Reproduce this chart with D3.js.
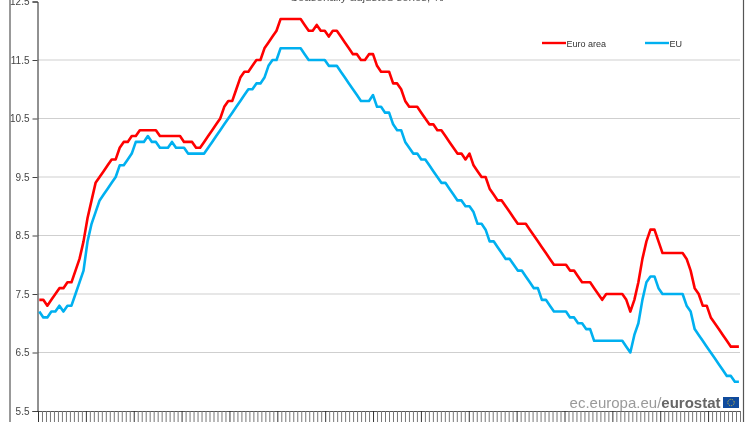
<!DOCTYPE html>
<html><head><meta charset="utf-8">
<script src="https://cdn.jsdelivr.net/npm/d3@7"></script>
<style>html,body{margin:0;padding:0;background:#fff;overflow:hidden}svg{display:block;filter:blur(0.35px)}text{font-family:"Liberation Sans",Arial,sans-serif}</style>
</head><body>
<script>
const titleText = "Seasonally adjusted series, %";
const yTicks = [5.5,6.5,7.5,8.5,9.5,10.5,11.5,12.5];
const seriesNames = ["Euro area","EU"];
const seriesColors = ["#ff0000","#00b0f0"];
const euroArea = [7.4,7.4,7.3,7.4,7.5,7.6,7.6,7.7,7.7,7.9,8.1,8.4,8.8,9.1,9.4,9.5,9.6,9.7,9.8,9.8,
10.0,10.1,10.1,10.2,10.2,10.3,10.3,10.3,10.3,10.3,10.2,10.2,10.2,10.2,10.2,10.2,10.1,10.1,10.1,10.0,
10.0,10.1,10.2,10.3,10.4,10.5,10.7,10.8,10.8,11.0,11.2,11.3,11.3,11.4,11.5,11.5,11.7,11.8,11.9,12.0,
12.2,12.2,12.2,12.2,12.2,12.2,12.1,12.0,12.0,12.1,12.0,12.0,11.9,12.0,12.0,11.9,11.8,11.7,11.6,11.6,
11.5,11.5,11.6,11.6,11.4,11.3,11.3,11.3,11.1,11.1,11.0,10.8,10.7,10.7,10.7,10.6,10.5,10.4,10.4,10.3,
10.3,10.2,10.1,10.0,9.9,9.9,9.8,9.9,9.7,9.6,9.5,9.5,9.3,9.2,9.1,9.1,9.0,8.9,8.8,8.7,
8.7,8.7,8.6,8.5,8.4,8.3,8.2,8.1,8.0,8.0,8.0,8.0,7.9,7.9,7.8,7.7,7.7,7.7,7.6,7.5,
7.4,7.5,7.5,7.5,7.5,7.5,7.4,7.2,7.4,7.7,8.1,8.4,8.6,8.6,8.4,8.2,8.2,8.2,8.2,8.2,
8.2,8.1,7.9,7.6,7.5,7.3,7.3,7.1,7.0,6.9,6.8,6.7,6.6,6.6,6.6];
const eu = [7.2,7.1,7.1,7.2,7.2,7.3,7.2,7.3,7.3,7.5,7.7,7.9,8.4,8.7,8.9,9.1,9.2,9.3,9.4,9.5,
9.7,9.7,9.8,9.9,10.1,10.1,10.1,10.2,10.1,10.1,10.0,10.0,10.0,10.1,10.0,10.0,10.0,9.9,9.9,9.9,
9.9,9.9,10.0,10.1,10.2,10.3,10.4,10.5,10.6,10.7,10.8,10.9,11.0,11.0,11.1,11.1,11.2,11.4,11.5,11.5,
11.7,11.7,11.7,11.7,11.7,11.7,11.6,11.5,11.5,11.5,11.5,11.5,11.4,11.4,11.4,11.3,11.2,11.1,11.0,10.9,
10.8,10.8,10.8,10.9,10.7,10.7,10.6,10.6,10.4,10.3,10.3,10.1,10.0,9.9,9.9,9.8,9.8,9.7,9.6,9.5,
9.4,9.4,9.3,9.2,9.1,9.1,9.0,9.0,8.9,8.7,8.7,8.6,8.4,8.4,8.3,8.2,8.1,8.1,8.0,7.9,
7.9,7.8,7.7,7.6,7.6,7.4,7.4,7.3,7.2,7.2,7.2,7.2,7.1,7.1,7.0,7.0,6.9,6.9,6.7,6.7,
6.7,6.7,6.7,6.7,6.7,6.7,6.6,6.5,6.8,7.0,7.4,7.7,7.8,7.8,7.6,7.5,7.5,7.5,7.5,7.5,
7.5,7.3,7.2,6.9,6.8,6.7,6.6,6.5,6.4,6.3,6.2,6.1,6.1,6.0,6.0];

const W = 750, H = 422;
const svg = d3.select("body").append("svg").attr("width",W).attr("height",H);
const x = d3.scaleLinear().domain([0,euroArea.length-1]).range([39.3,738.9]);
const y = d3.scaleLinear().domain([5.5,12.5]).range([411,1.5]);

// outer frame lines
svg.append("line").attr("x1",10).attr("x2",10).attr("y1",0).attr("y2",H).attr("stroke","#999").attr("stroke-width",2);
svg.append("line").attr("x1",743.5).attr("x2",743.5).attr("y1",0).attr("y2",H).attr("stroke","#555").attr("stroke-width",1.2);

// gridlines
svg.append("g").selectAll("line").data(yTicks.slice(1,-1)).join("line")
  .attr("x1",38).attr("x2",740).attr("y1",d=>y(d)).attr("y2",d=>y(d))
  .attr("stroke","#cfcfcf").attr("stroke-width",1.2);

// y axis
const yAxis = d3.axisLeft(y).tickValues(yTicks).tickSize(5).tickFormat(d3.format(".1f"));
const gy = svg.append("g").attr("transform","translate(37.5,0)").call(yAxis);
gy.select(".domain").attr("stroke","#222").attr("stroke-width",1);
gy.selectAll(".tick line").attr("stroke","#444");
gy.selectAll("text").attr("font-size",10).attr("fill","#444").attr("x",-8);

// x axis: month ticks without labels
const monthTicks = d3.range(0,euroArea.length+2);
const xTick = d3.scaleLinear().domain([0,euroArea.length+1]).range([38,740]);
const xAxis = d3.axisBottom(xTick).tickValues(monthTicks).tickSize(11).tickFormat("");
const gx = svg.append("g").attr("transform","translate(0,411)").call(xAxis);
gx.select(".domain").attr("stroke","#555").attr("stroke-width",1);
gx.selectAll(".tick line").attr("stroke",(d)=>d%12===0?"#333":"#777").attr("stroke-width",1);

// lines
const line = d3.line().x((d,i)=>x(i)).y(d=>y(d));
[euroArea,eu].forEach((s,i)=>{
  svg.append("path").datum(s).attr("d",line).attr("fill","none")
    .attr("stroke",seriesColors[i]).attr("stroke-width",2.6).attr("stroke-linejoin","round");
});

// legend
const legendX = [542,645];
seriesNames.forEach((n,i)=>{
  svg.append("line").attr("x1",legendX[i]).attr("x2",legendX[i]+24).attr("y1",43).attr("y2",43)
    .attr("stroke",seriesColors[i]).attr("stroke-width",2.4);
  svg.append("text").attr("x",legendX[i]+24.5).attr("y",47).attr("font-size",9).attr("fill","#333").text(n);
});

// title (clipped at the top of the image)
svg.append("text").attr("x",367).attr("y",1).attr("text-anchor","middle").attr("font-size",11.5).attr("fill","#555").text(titleText);

// source mark
const src = svg.append("text").attr("x",720.5).attr("y",408).attr("text-anchor","end").attr("font-size",15).attr("fill","#9a9a9a");
src.append("tspan").text("ec.europa.eu/");
src.append("tspan").attr("font-weight","bold").attr("fill","#666").text("eurostat");
svg.append("rect").attr("x",723).attr("y",397).attr("width",16).attr("height",11).attr("fill","#0f4a9c");
svg.append("circle").attr("cx",731).attr("cy",402.5).attr("r",3.2).attr("fill","none").attr("stroke","#d8c23a").attr("stroke-width",1).attr("stroke-dasharray","1 1");
</script>
</body></html>
